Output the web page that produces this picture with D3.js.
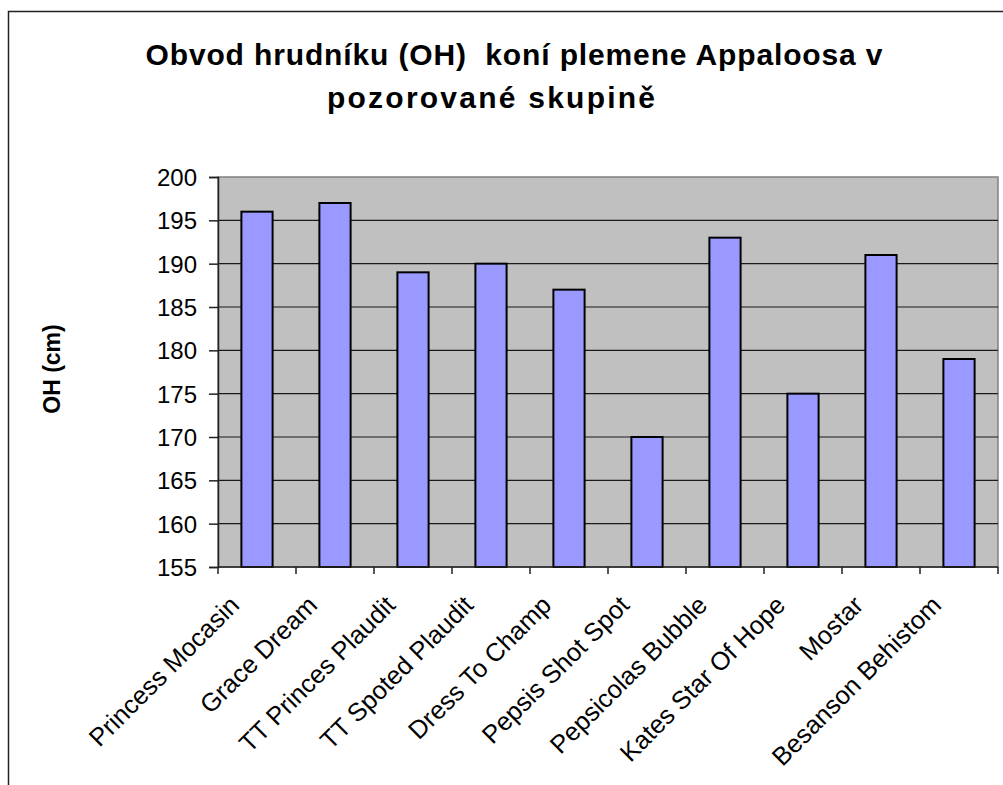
<!DOCTYPE html>
<html>
<head>
<meta charset="utf-8">
<script src="https://cdn.jsdelivr.net/npm/d3@7"></script>
<style>
    body { margin: 0; background: #fff; }
    svg { display: block; font-family: Arial, "Liberation Sans", sans-serif; }
</style>
</head>
<body>
<svg id="chart" width="1003" height="785"></svg>
<script>
let horses = ['Princess Mocasin', 'Grace Dream', 'TT Princes Plaudit', 'TT Spoted Plaudit',
    'Dress To Champ', 'Pepsis Shot Spot', 'Pepsicolas Bubble', 'Kates Star Of Hope',
    'Mostar', 'Besanson Behistom']
let oh_values = [196, 197, 189, 190, 187, 170, 193, 175, 191, 179]
let y_ticks = [155, 160, 165, 170, 175, 180, 185, 190, 195, 200]
let title_lines = ['Obvod hrudníku (OH)  koní plemene Appaloosa v', 'pozorované skupině']
let y_title = 'OH (cm)'

let plot = {'l': 218, 'r': 998, 't': 177, 'b': 567}

let svg = d3.select('#chart')

// outer chart border, runs off the right and bottom edge
svg.append('rect')
    .attr('x', 8.5).attr('y', 11.5)
    .attr('width', 1100).attr('height', 900)
    .attr('fill', 'none')
    .attr('stroke', '#222')
    .attr('stroke-width', 1.5)

let x = d3.scaleBand()
    .domain(horses)
    .range([plot.l, plot.r])
    .paddingInner(0.6)
    .paddingOuter(0.3)

let band = (plot.r - plot.l) / horses.length

let y = d3.scaleLinear()
    .domain([d3.min(y_ticks), d3.max(y_ticks)])
    .range([plot.b, plot.t])

// plot background
svg.append('rect')
    .attr('x', plot.l).attr('y', plot.t)
    .attr('width', plot.r - plot.l).attr('height', plot.b - plot.t)
    .attr('fill', '#c0c0c0')
    .attr('stroke', '#808080')
    .attr('stroke-width', 1.5)

// gridlines
svg.append('g')
    .selectAll('line')
    .data(y_ticks.slice(1, -1))
    .join('line')
    .attr('x1', plot.l).attr('x2', plot.r)
    .attr('y1', d => y(d)).attr('y2', d => y(d))
    .attr('stroke', '#1a1a1a')
    .attr('stroke-width', 1.2)

// bars
svg.append('g')
    .selectAll('rect')
    .data(oh_values)
    .join('rect')
    .attr('x', (d, i) => x(horses[i]))
    .attr('y', d => y(d))
    .attr('width', x.bandwidth())
    .attr('height', d => y(y_ticks[0]) - y(d))
    .attr('fill', '#9999ff')
    .attr('stroke', '#000')
    .attr('stroke-width', 2)

// y axis
let y_axis = svg.append('g')
    .attr('transform', `translate(${plot.l},0)`)
    .call(d3.axisLeft(y).tickValues(y_ticks).tickSize(9).tickPadding(12))
y_axis.selectAll('text')
    .attr('font-size', 24)
    .attr('font-family', 'Arial, "Liberation Sans", sans-serif')
    .attr('fill', '#000')
    .attr('dy', '0.36em')
y_axis.selectAll('line, path').attr('stroke', '#222').attr('stroke-width', 1.5)

// x axis: ticks at band boundaries
let x_axis = svg.append('g')
svg.append('line')
    .attr('x1', plot.l).attr('x2', plot.r)
    .attr('y1', plot.b).attr('y2', plot.b)
    .attr('stroke', '#222').attr('stroke-width', 1.5)
x_axis.selectAll('line')
    .data(d3.range(horses.length + 1))
    .join('line')
    .attr('x1', i => plot.l + i * band).attr('x2', i => plot.l + i * band)
    .attr('y1', plot.b).attr('y2', plot.b + 7)
    .attr('stroke', '#222').attr('stroke-width', 1.5)

x_axis.selectAll('text')
    .data(horses)
    .join('text')
    .attr('transform', d => `translate(${x(d) + x.bandwidth() / 2 - 29},594) rotate(-45)`)
    .attr('text-anchor', 'end')
    .attr('dy', '0.71em')
    .attr('font-size', 25.5)
    .attr('fill', '#000')
    .text(d => d)

// titles
let title_pos = [[514, 65], [491, 108]]
let title_len = [737, 328]
svg.append('g')
    .selectAll('text')
    .data(title_lines)
    .join('text')
    .attr('x', (d, i) => title_pos[i][0])
    .attr('y', (d, i) => title_pos[i][1])
    .attr('text-anchor', 'middle')
    .attr('font-size', 30)
    .attr('font-weight', 'bold')
    .attr('textLength', (d, i) => title_len[i])
    .attr('lengthAdjust', 'spacing')
    .style('white-space', 'pre')
    .text(d => d)

svg.append('text')
    .attr('transform', `translate(60,${(plot.t + plot.b) / 2 - 3}) rotate(-90)`)
    .attr('text-anchor', 'middle')
    .attr('font-size', 23)
    .attr('font-weight', 'bold')
    .text(y_title)
</script>
</body>
</html>
